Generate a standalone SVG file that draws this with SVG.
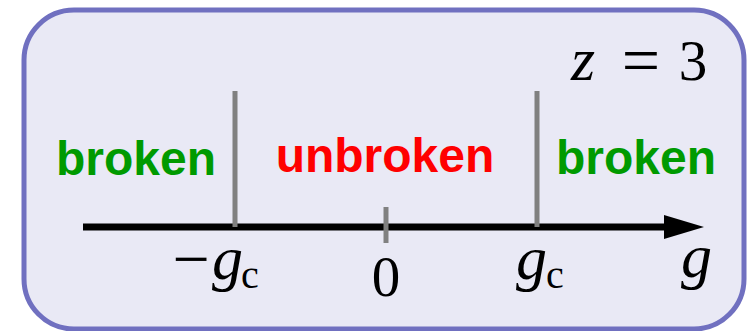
<svg xmlns="http://www.w3.org/2000/svg" width="747" height="331" viewBox="0 0 747 331">
<style>
.lbl{font-family:"Liberation Sans",Arial,sans-serif;font-weight:bold;font-size:48px}
.math{font-family:"Liberation Serif","Times New Roman",serif;font-size:57px;fill:#000}
.it{font-style:italic;font-size:62px}
.tick{stroke:#808080;stroke-width:5}
</style>
<defs>
<marker id="arr" markerUnits="userSpaceOnUse" markerWidth="40" markerHeight="24" refX="0" refY="12" orient="auto">
<path d="M0,0 L40,12 L0,24 Z" fill="#000"/>
</marker>
</defs>
<g id="frame">
<rect x="24" y="10" width="720" height="319" rx="50" ry="50" fill="#e9e9f5" stroke="#7070c0" stroke-width="5"/>
</g>
<g id="connectors">
<line x1="83" y1="227" x2="664" y2="227" stroke="#000" stroke-width="7" marker-end="url(#arr)"/>
<line class="tick" x1="235" y1="91" x2="235" y2="227"/>
<line class="tick" x1="537" y1="91" x2="537" y2="227"/>
<line class="tick" x1="386" y1="207" x2="386" y2="243"/>
</g>
<g id="broken-left"><text class="lbl" x="136" y="175" text-anchor="middle" fill="#009a00">broken</text></g>
<g id="unbroken"><text class="lbl" x="385" y="172" text-anchor="middle" fill="#ff0000">unbroken</text></g>
<g id="broken-right"><text class="lbl" x="636" y="174" text-anchor="middle" fill="#009a00">broken</text></g>
<g id="z-label"><text class="math" y="80"><tspan class="it" x="571">z</tspan><tspan x="641" y="83" font-size="68" text-anchor="middle">=</tspan><tspan x="693" y="80" text-anchor="middle">3</tspan></text></g>
<g id="minus-gc"><text class="math" y="281"><tspan x="191" font-size="66" text-anchor="middle">−</tspan><tspan class="it" x="212" y="279">g</tspan><tspan x="241" y="288" font-size="40">c</tspan></text></g>
<g id="zero"><text class="math" x="386" y="296" text-anchor="middle">0</text></g>
<g id="gc"><text class="math" y="279"><tspan class="it" x="516">g</tspan><tspan x="546" y="288" font-size="40">c</tspan></text></g>
<g id="g-axis"><text class="math it" x="681" y="277">g</text></g>
</svg>
